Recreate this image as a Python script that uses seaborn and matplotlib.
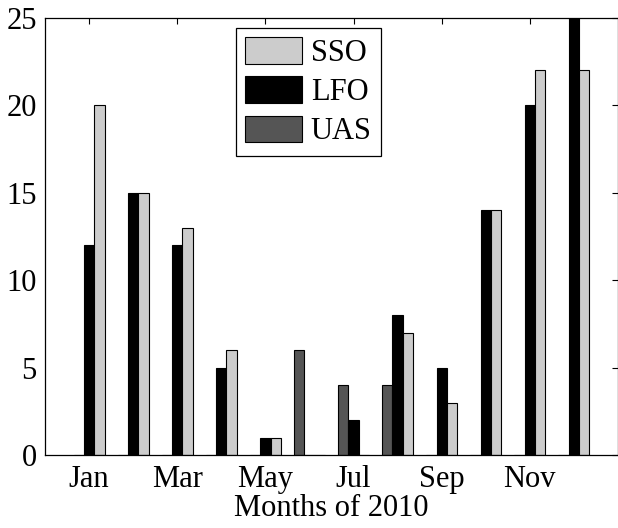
import matplotlib
matplotlib.use("Agg")
import matplotlib.pyplot as plt
import seaborn as sns
import pandas as pd
from matplotlib.patches import Patch

months = ["Jan", "Feb", "Mar", "Apr", "May", "Jun", "Jul", "Aug", "Sep", "Oct", "Nov", "Dec"]
uas = [0, 0, 0, 0, 0, 6, 4, 4, 0, 0, 0, 0]
lfo = [12, 15, 12, 5, 1, 0, 2, 8, 5, 14, 20, 25]
sso = [20, 15, 13, 6, 1, 0, 0, 7, 3, 14, 22, 22]
tick_labels = ["Jan", "Mar", "May", "Jul", "Sep", "Nov"]
series = ["UAS", "LFO", "SSO"]
colors = {"UAS": "#555555", "LFO": "#000000", "SSO": "#cccccc"}

df = pd.DataFrame({
    "month": months * 3,
    "count": uas + lfo + sso,
    "series": ["UAS"] * 12 + ["LFO"] * 12 + ["SSO"] * 12,
})

sns.set_style("white")
plt.rcParams["font.family"] = ["Liberation Serif", "DejaVu Serif"]
plt.rcParams["font.size"] = 22
plt.rcParams["text.color"] = "black"
plt.rcParams["axes.labelcolor"] = "black"
plt.rcParams["xtick.color"] = "black"
plt.rcParams["ytick.color"] = "black"

fig = plt.figure(figsize=(6.18, 5.28), dpi=100)
ax = fig.add_axes([45 / 618, (528 - 455) / 528, 573 / 618, 437 / 528])

sns.barplot(data=df, x="month", y="count", hue="series", order=months,
            hue_order=series, palette=colors, width=0.7, gap=0,
            edgecolor="black", linewidth=0.8, errorbar=None, legend=False, ax=ax)

ax.set_xlim(-1, 12)
ax.set_ylim(0, 25)
ax.set_yticks([0, 5, 10, 15, 20, 25])
ax.set_xticks([0, 2, 4, 6, 8, 10])
ax.set_xticklabels(tick_labels)
ax.set_xlabel("Months of 2010", fontsize=22, labelpad=0, color="black")
ax.set_ylabel("")
ax.tick_params(direction="in", length=4, width=0.8, top=True, right=True,
               labelsize=22, pad=6, colors="black")
ax.tick_params(axis="x", pad=7)
for s in ax.spines.values():
    s.set_visible(True)
    s.set_color("black")
    s.set_linewidth(0.9)

handles = [Patch(facecolor=colors[s], edgecolor="black", linewidth=0.8) for s in ["SSO", "LFO", "UAS"]]
leg = ax.legend(handles, ["SSO", "LFO", "UAS"], loc="upper left",
                bbox_to_anchor=(0.333, 0.977), borderaxespad=0, fontsize=22,
                handlelength=1.85, handleheight=0.95, labelspacing=0.28,
                handletextpad=0.3, borderpad=0.3, fancybox=False, framealpha=1)
leg.get_frame().set_edgecolor("black")
leg.get_frame().set_linewidth(0.9)

fig.savefig("out.png", dpi=100)
